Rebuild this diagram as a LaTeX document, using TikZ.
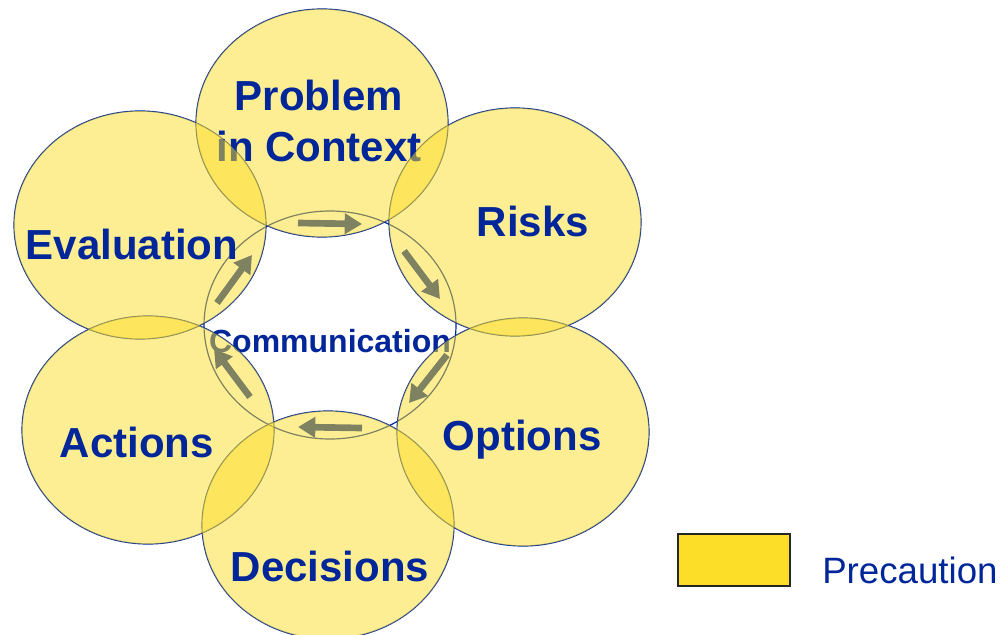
\documentclass[tikz,border=0pt]{standalone}
\usepackage{fontspec}
\setmainfont{Liberation Sans}
\usetikzlibrary{arrows.meta}
\definecolor{txtblue}{RGB}{0,38,153}
\definecolor{petal}{RGB}{252,222,40}
\tikzset{
  ring/.style={draw=txtblue, line width=0.9pt},
  petalfill/.style={fill=petal, fill opacity=0.5},
  cyclearrow/.style={draw=txtblue, line width=5pt, -{Triangle[length=13pt,width=15pt]}},
  bigword/.style={text=txtblue, font=\fontsize{31.5}{38}\selectfont\bfseries, align=center, inner sep=0pt},
  legendbox/.style={draw=black!85, line width=1pt, fill=petal, minimum width=84pt, minimum height=39pt, inner sep=0pt},
}
\begin{document}
\begin{tikzpicture}[x=0.75pt,y=0.75pt,yscale=-1,xscale=1]
\useasboundingbox (0,0) rectangle (1003,635);

%Centres of the petals
\coordinate (cProblem) at (322,123);
\coordinate (cRisks) at (515,222);
\coordinate (cOptions) at (523,432);
\coordinate (cDecisions) at (328,525);
\coordinate (cActions) at (148,430);
\coordinate (cEvaluation) at (140,225);
\coordinate (cComm) at (330,325);

%Arrow ends
\coordinate (a1s) at (298,223); \coordinate (a1e) at (362,224);
\coordinate (a2s) at (404,251); \coordinate (a2e) at (440,299);
\coordinate (a3s) at (447,355); \coordinate (a3e) at (409,403);
\coordinate (a4s) at (362,428); \coordinate (a4e) at (298,427);
\coordinate (a5s) at (250,397); \coordinate (a5e) at (214,349);
\coordinate (a6s) at (217,303); \coordinate (a6e) at (252,255);

%Shape: Ellipse outlines (under the fills)
\foreach \c in {cProblem,cRisks,cOptions,cDecisions,cActions,cEvaluation,cComm}
  \draw [ring] (\c) ellipse [x radius=126, y radius=114];

%Arrows
\draw [cyclearrow] (a1s) -- (a1e);
\draw [cyclearrow] (a2s) -- (a2e);
\draw [cyclearrow] (a3s) -- (a3e);
\draw [cyclearrow] (a4s) -- (a4e);
\draw [cyclearrow] (a5s) -- (a5e);
\draw [cyclearrow] (a6s) -- (a6e);

%Shape: Ellipse
\path [petalfill] (cProblem) ellipse [x radius=126, y radius=114];
% Text Node
\draw (319,121) node (problem) [bigword] {Problem\\in Context};

%Shape: Ellipse
\path [petalfill] (cDecisions) ellipse [x radius=126, y radius=114];
% Text Node
\draw (330,566) node (decisions) [bigword] {Decisions};

% Text Node
\draw (330,341) node (comm) [bigword, font=\fontsize{24}{27}\selectfont\bfseries] {Communication};

%Shape: Ellipse
\path [petalfill] (cEvaluation) ellipse [x radius=126, y radius=114];
% Text Node
\draw (132,244) node (evaluation) [bigword] {Evaluation};

%Shape: Ellipse
\path [petalfill] (cRisks) ellipse [x radius=126, y radius=114];
% Text Node
\draw (533,221) node (risks) [bigword] {Risks};

%Shape: Ellipse
\path [petalfill] (cActions) ellipse [x radius=126, y radius=114];
% Text Node
\draw (137,442) node (actions) [bigword] {Actions};

%Shape: Ellipse
\path [petalfill] (cOptions) ellipse [x radius=126, y radius=114];
% Text Node
\draw (522,440) node (options) [bigword] {Options};

%Legend
\draw (734,560) node (keybox) [legendbox] {};
% Text Node
\draw (822,570) node (keytext) [anchor=west, inner sep=0pt, text=txtblue, font=\fontsize{27.5}{30}\selectfont] {Precaution};

\end{tikzpicture}
\end{document}
